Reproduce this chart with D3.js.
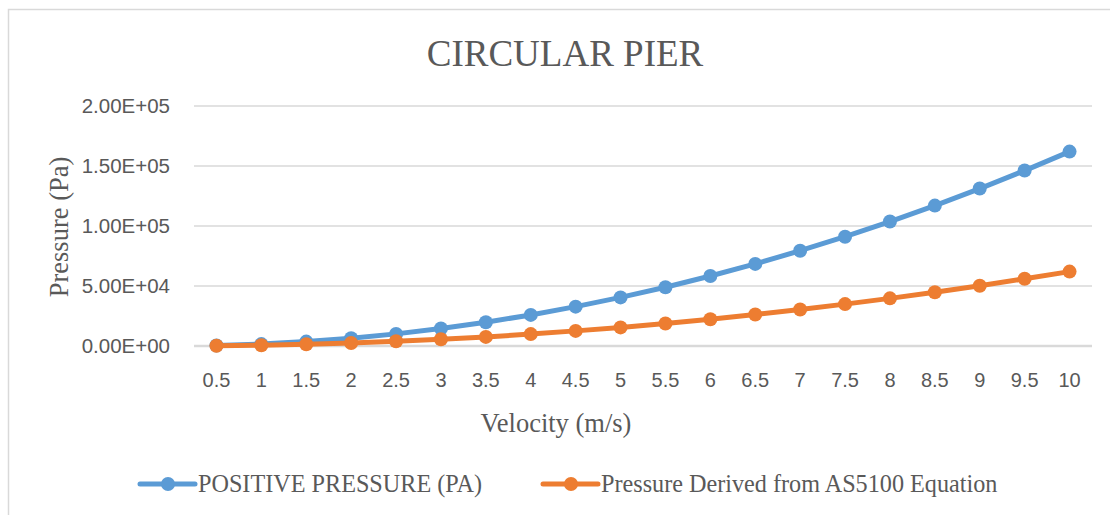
<!DOCTYPE html>
<html>
<head>
<meta charset="utf-8">
<script src="https://cdn.jsdelivr.net/npm/d3@7"></script>
<style>
  body { margin: 0; background: #fff; }
  svg { display: block; }
</style>
</head>
<body>
<div id="chart"></div>
<script>
// velocity categories (m/s)
const velocity = ["0.5","1","1.5","2","2.5","3","3.5","4","4.5","5","5.5","6","6.5","7","7.5","8","8.5","9","9.5","10"];

// positive pressure (Pa)
const positivePressure = [400, 1600, 3650, 6500, 10100, 14600, 19800, 25900, 32800, 40500,
                          49000, 58300, 68400, 79400, 91100, 103700, 117000, 131200, 146200, 162000];

// pressure from AS5100 equation (Pa)
const as5100Pressure = [150, 600, 1400, 2500, 3900, 5600, 7600, 9900, 12600, 15500,
                        18800, 22300, 26200, 30400, 34900, 39700, 44800, 50200, 56000, 62000];

const yTicks = [0, 50000, 100000, 150000, 200000];

const seriesNames = ["POSITIVE PRESSURE (PA)", "Pressure Derived from AS5100 Equation"];
const seriesColors = ["#5b9bd5", "#ed7d31"];

const width = 1110, height = 515;
const plot = { left: 194, right: 1092, top: 106, bottom: 346 };

const svg = d3.select("#chart").append("svg")
    .attr("width", width)
    .attr("height", height);

// chart border (runs off the right and bottom edge)
svg.append("rect")
    .attr("x", 8.5).attr("y", 9.5)
    .attr("width", 1120).attr("height", 530)
    .attr("fill", "none")
    .attr("stroke", "#d9d9d9")
    .attr("stroke-width", 1.5);

const x = d3.scalePoint()
    .domain(velocity)
    .range([plot.left, plot.right])
    .padding(0.5);

const y = d3.scaleLinear()
    .domain([0, 200000])
    .range([plot.bottom, plot.top]);

const fmt = v => {
    const s = v.toExponential(2).toUpperCase();   // e.g. 1.50E+5
    return s.replace(/E([+-])(\d)$/, "E$10$2");
};

// gridlines
svg.append("g").selectAll("line")
    .data(yTicks)
    .enter().append("line")
    .attr("x1", plot.left).attr("x2", plot.right)
    .attr("y1", d => y(d)).attr("y2", d => y(d))
    .attr("stroke", "#d9d9d9")
    .attr("stroke-width", d => d === 0 ? 2.5 : 1.5);

// y tick labels
svg.append("g").selectAll("text")
    .data(yTicks)
    .enter().append("text")
    .attr("x", 170)
    .attr("y", d => y(d) + 7)
    .attr("text-anchor", "end")
    .attr("font-family", "Liberation Sans, Arial, sans-serif")
    .attr("font-size", 20.5)
    .attr("fill", "#595959")
    .text(fmt);

// x tick labels
svg.append("g").selectAll("text")
    .data(velocity)
    .enter().append("text")
    .attr("x", d => x(d))
    .attr("y", 387)
    .attr("text-anchor", "middle")
    .attr("font-family", "Liberation Sans, Arial, sans-serif")
    .attr("font-size", 20)
    .attr("fill", "#595959")
    .text(d => d);

// title
svg.append("text")
    .attr("x", 565).attr("y", 66)
    .attr("text-anchor", "middle")
    .attr("font-family", "Liberation Serif, Times New Roman, serif")
    .attr("font-size", 37)
    .attr("fill", "#595959")
    .text("CIRCULAR PIER");

// axis titles
svg.append("text")
    .attr("x", 556).attr("y", 432)
    .attr("text-anchor", "middle")
    .attr("font-family", "Liberation Serif, Times New Roman, serif")
    .attr("font-size", 26.5)
    .attr("fill", "#595959")
    .text("Velocity (m/s)");

svg.append("text")
    .attr("transform", "translate(68,227) rotate(-90)")
    .attr("text-anchor", "middle")
    .attr("font-family", "Liberation Serif, Times New Roman, serif")
    .attr("font-size", 26.5)
    .attr("fill", "#595959")
    .text("Pressure (Pa)");

// series lines + markers
const series = [positivePressure, as5100Pressure];
const line = d3.line()
    .x((d, i) => x(velocity[i]))
    .y(d => y(d));

series.forEach((vals, s) => {
    const g = svg.append("g");
    g.append("path")
        .datum(vals)
        .attr("d", line)
        .attr("fill", "none")
        .attr("stroke", seriesColors[s])
        .attr("stroke-width", 5)
        .attr("stroke-linejoin", "round")
        .attr("stroke-linecap", "round");
    g.selectAll("circle")
        .data(vals)
        .enter().append("circle")
        .attr("cx", (d, i) => x(velocity[i]))
        .attr("cy", d => y(d))
        .attr("r", 7)
        .attr("fill", seriesColors[s]);
});

// legend
const legendX = [140, 543];
const legend = svg.append("g").selectAll("g")
    .data(seriesNames)
    .enter().append("g")
    .attr("transform", (d, i) => `translate(${legendX[i]},484)`);

legend.append("line")
    .attr("x1", 0).attr("x2", 55)
    .attr("stroke", (d, i) => seriesColors[i])
    .attr("stroke-width", 5)
    .attr("stroke-linecap", "round");
legend.append("circle")
    .attr("cx", 28).attr("r", 7)
    .attr("fill", (d, i) => seriesColors[i]);
legend.append("text")
    .attr("x", 58).attr("y", 8)
    .attr("font-family", "Liberation Serif, Times New Roman, serif")
    .attr("font-size", 24.2)
    .attr("fill", "#595959")
    .text(d => d);
</script>
</body>
</html>
